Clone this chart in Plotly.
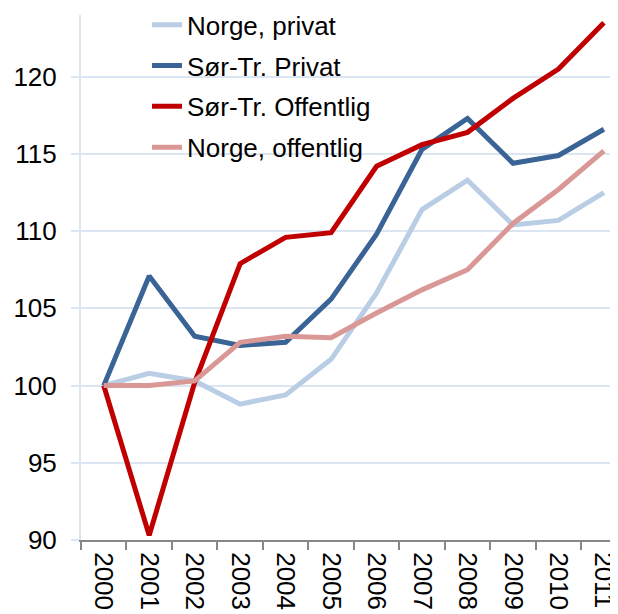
import plotly.graph_objects as go

years = [str(y) for y in range(2000, 2012)]

norge_privat = [100, 100.8, 100.3, 98.8, 99.4, 101.7, 106.0, 111.4, 113.3, 110.4, 110.7, 112.5]
sortr_privat = [100, 107.1, 103.2, 102.6, 102.8, 105.6, 109.8, 115.3, 117.3, 114.4, 114.9, 116.6]
sortr_offentlig = [100, 90.3, 100.2, 107.9, 109.6, 109.9, 114.2, 115.6, 116.4, 118.6, 120.5, 123.5]
norge_offentlig = [100, 100.0, 100.3, 102.8, 103.2, 103.1, 104.7, 106.2, 107.5, 110.5, 112.7, 115.2]

series = [
    ("Norge, privat", norge_privat, "#b9cde5"),
    ("Sør-Tr. Privat", sortr_privat, "#3a6496"),
    ("Sør-Tr. Offentlig", sortr_offentlig, "#c00000"),
    ("Norge, offentlig", norge_offentlig, "#d99795"),
]

fig = go.Figure()
for i, (name, vals, color) in enumerate(series):
    fig.add_trace(go.Scatter(
        x=years, y=vals, name=name, mode="lines",
        line=dict(color=color, width=5),
        legendgroup=f"g{i}",
    ))

font = dict(family="Liberation Sans, Arial, sans-serif", size=26, color="#000000")

# page body has an 8px margin, so the figure is sized to fit the 618x614 window
fig.update_layout(
    width=610, height=606,
    margin=dict(l=73, r=0, t=7, b=74, autoexpand=False),
    plot_bgcolor="white", paper_bgcolor="white",
    font=font,
    showlegend=True,
    legend=dict(
        x=(139 - 73) / 537, y=1.026, xanchor="left", yanchor="top",
        bgcolor="rgba(0,0,0,0)", font=font, tracegroupgap=4,
    ),
    xaxis=dict(
        type="category", range=[-0.5, 11.31],
        tickangle=90, tickson="boundaries",
        ticks="outside", ticklen=8, tickcolor="#888888", tickwidth=1.5,
        showline=True, linecolor="#888888", linewidth=2,
        showgrid=False, automargin=False, tickfont=font, ticklabelstandoff=5,
    ),
    yaxis=dict(
        range=[90, 124], tickvals=[90, 95, 100, 105, 110, 115, 120],
        ticks="outside", ticklen=8, tickcolor="#dce6f2", tickwidth=2,
        showline=True, linecolor="#dce6f2", linewidth=2,
        showgrid=True, gridcolor="#dce6f2", gridwidth=2,
        zeroline=False, automargin=False, tickfont=font, ticklabelstandoff=9,
    ),
)

fig.write_html("out.html")
